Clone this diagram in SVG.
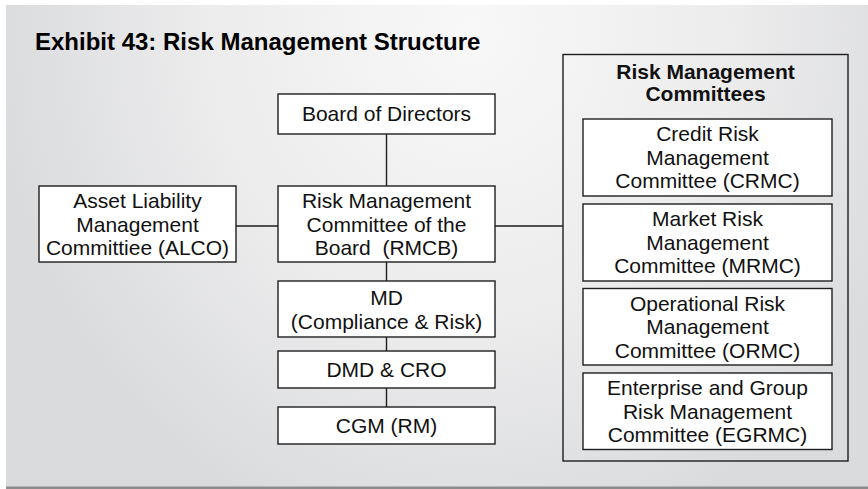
<svg xmlns="http://www.w3.org/2000/svg" width="868" height="489" viewBox="0 0 868 489">
<defs>
<radialGradient id="bg" gradientUnits="userSpaceOnUse" cx="470" cy="30" r="480" gradientTransform="translate(470 30) scale(1 1.1) translate(-470 -30)">
<stop offset="0" stop-color="#f8f8f8"/>
<stop offset="0.55" stop-color="#ececed"/>
<stop offset="1" stop-color="#dadbdd"/>
</radialGradient>
<style>
.box{fill:#ffffff;stroke:#1e1e1e;stroke-width:1.4}
.frame{fill:none;stroke:#1e1e1e;stroke-width:1.4}
.conn line{stroke:#1e1e1e;stroke-width:1.4}
.t{font-family:"Liberation Sans",Arial,Helvetica,sans-serif;font-size:21px;fill:#111;text-anchor:middle}
.b{font-family:"Liberation Sans",Arial,Helvetica,sans-serif;font-size:21px;font-weight:bold;fill:#111;text-anchor:middle}
.title{font-family:"Liberation Sans",Arial,Helvetica,sans-serif;font-size:24px;font-weight:bold;fill:#000}
</style>
</defs>
<rect x="0" y="0" width="868" height="489" fill="#ffffff"/>
<rect x="6" y="5" width="862" height="482" fill="url(#bg)"/>
<rect x="6" y="486.5" width="862" height="2.5" fill="#8c8c8c"/>
<text class="title" x="35" y="50">Exhibit 43: Risk Management Structure</text>

<g id="connectors" class="conn">
<line x1="386.5" y1="134" x2="386.5" y2="186"/>
<line x1="236" y1="226" x2="278" y2="226"/>
<line x1="495" y1="226" x2="563" y2="226"/>
<line x1="386.5" y1="262" x2="386.5" y2="281"/>
<line x1="386.5" y1="337" x2="386.5" y2="351"/>
<line x1="386.5" y1="388" x2="386.5" y2="407"/>
</g>

<g id="board">
<rect class="box" x="278" y="94" width="217" height="40"/>
<text class="t" x="386.5" y="121">Board of Directors</text>
</g>

<g id="alco">
<rect class="box" x="39" y="186" width="197" height="76"/>
<text class="t" x="137.5" y="208">Asset Liability</text>
<text class="t" x="137.5" y="231.5">Management</text>
<text class="t" x="137.5" y="255">Committiee (ALCO)</text>
</g>

<g id="rmcb">
<rect class="box" x="278" y="186" width="217" height="76"/>
<text class="t" x="386.5" y="208">Risk Management</text>
<text class="t" x="386.5" y="231.5">Committee of the</text>
<text class="t" x="386.5" y="255">Board&#160; (RMCB)</text>
</g>

<g id="md">
<rect class="box" x="278" y="281" width="217" height="56"/>
<text class="t" x="386.5" y="305">MD</text>
<text class="t" x="386.5" y="328.5">(Compliance &amp; Risk)</text>
</g>

<g id="dmd">
<rect class="box" x="278" y="351" width="217" height="37"/>
<text class="t" x="386.5" y="377">DMD &amp; CRO</text>
</g>

<g id="cgm">
<rect class="box" x="278" y="407" width="217" height="37"/>
<text class="t" x="386.5" y="433">CGM (RM)</text>
</g>

<g id="rmc">
<rect class="frame" x="563" y="54.5" width="285" height="406.5"/>
<text class="b" x="705.5" y="79">Risk Management</text>
<text class="b" x="705.5" y="100.5">Committees</text>
</g>

<g id="crmc">
<rect class="box" x="583" y="119" width="249" height="77"/>
<text class="t" x="707.5" y="141">Credit Risk</text>
<text class="t" x="707.5" y="164.5">Management</text>
<text class="t" x="707.5" y="188">Committee (CRMC)</text>
</g>

<g id="mrmc">
<rect class="box" x="583" y="204" width="249" height="77"/>
<text class="t" x="707.5" y="226">Market Risk</text>
<text class="t" x="707.5" y="249.5">Management</text>
<text class="t" x="707.5" y="273">Committee (MRMC)</text>
</g>

<g id="ormc">
<rect class="box" x="583" y="288.5" width="249" height="76.5"/>
<text class="t" x="707.5" y="310.5">Operational Risk</text>
<text class="t" x="707.5" y="334">Management</text>
<text class="t" x="707.5" y="357.5">Committee (ORMC)</text>
</g>

<g id="egrmc">
<rect class="box" x="583" y="373" width="249" height="76.5"/>
<text class="t" x="707.5" y="395">Enterprise and Group</text>
<text class="t" x="707.5" y="418.5">Risk Management</text>
<text class="t" x="707.5" y="442">Committee (EGRMC)</text>
</g>
</svg>
